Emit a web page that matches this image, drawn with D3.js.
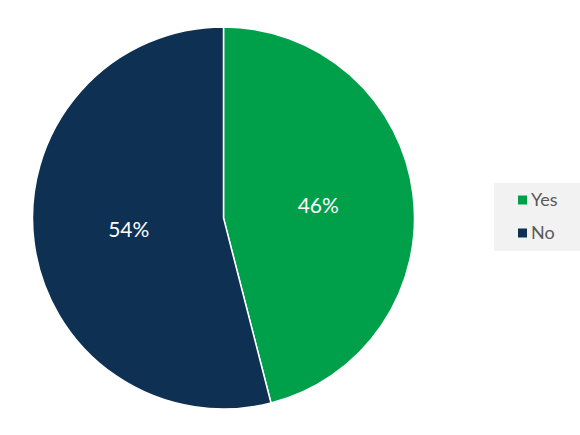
<!DOCTYPE html>
<html><head><meta charset="utf-8">
<script src="https://cdn.jsdelivr.net/npm/d3@7"></script>
<style>body{margin:0;background:#fff;} svg{display:block;}</style>
</head><body>
<svg id="c" width="580" height="435"></svg>
<script>
const categories = ["Yes", "No"];
const values = [46, 54];
const colors = ["#00A04B", "#0E3153"];

const svg = d3.select("#c");
const cx = 223.5, cy = 218, r = 191;
const pie = d3.pie().sort(null).value(d => d.v);
const data = pie(categories.map((c, i) => ({c, v: values[i], col: colors[i]})));
const arc = d3.arc().innerRadius(0).outerRadius(r);
const g = svg.append("g").attr("transform", `translate(${cx},${cy})`);
g.selectAll("path").data(data).join("path")
  .attr("d", arc).attr("fill", d => d.data.col)
  .attr("stroke", "#fff").attr("stroke-width", 1.5);
g.selectAll("text").data(data).join("text")
  .attr("transform", d => `translate(${arc.centroid(d)})`)
  .attr("text-anchor", "middle").attr("dy", "0.35em")
  .attr("fill", "#fff").attr("font-family", "Lato, sans-serif").attr("font-size", 21)
  .text(d => d.data.v + "%");

const lg = svg.append("g");
lg.append("rect").attr("x", 494).attr("y", 183).attr("width", 86).attr("height", 68).attr("fill", "#F2F2F2");
const ly = d3.scalePoint().domain(categories).range([200, 233]);
const items = lg.selectAll("g.it").data(categories).join("g").attr("class", "it")
  .attr("transform", d => `translate(0,${ly(d)})`);
items.append("rect").attr("x", 518).attr("y", -4.5).attr("width", 9).attr("height", 9)
  .attr("fill", (d, i) => colors[i]);
items.append("text").attr("x", 531).attr("dy", "0.35em")
  .attr("font-family", "Lato, sans-serif").attr("font-size", 18).attr("fill", "#595959")
  .text(d => d);
</script>
</body></html>
